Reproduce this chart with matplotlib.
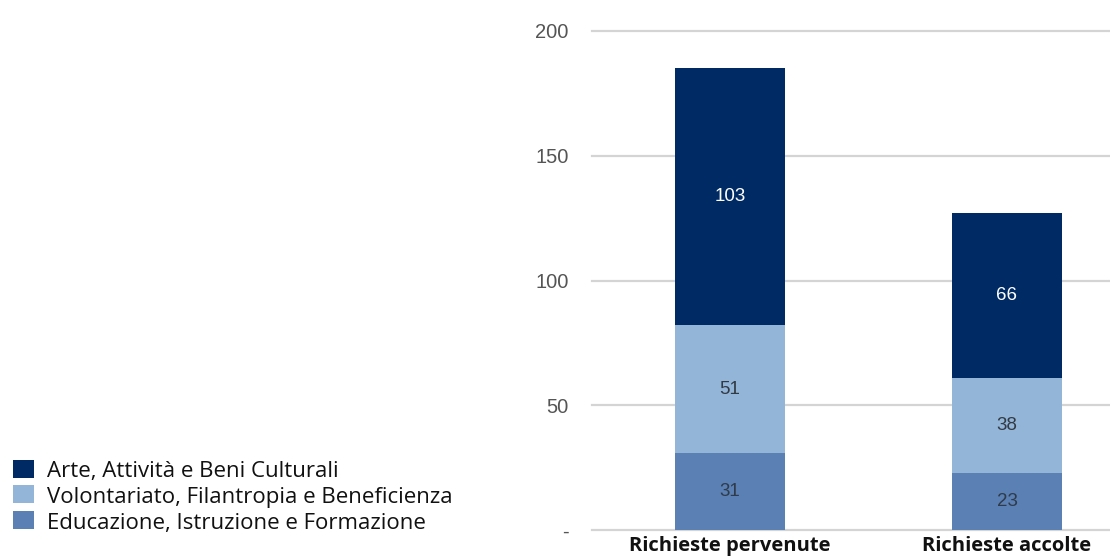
import matplotlib
matplotlib.use("Agg")
import matplotlib.pyplot as plt
from matplotlib.patches import Rectangle

categories = ["Richieste pervenute", "Richieste accolte"]
series_names = [
    "Educazione, Istruzione e Formazione",
    "Volontariato, Filantropia e Beneficienza",
    "Arte, Attività e Beni Culturali",
]
educazione = [31, 23]
volontariato = [51, 38]
arte = [103, 66]
y_ticks = [0, 50, 100, 150, 200]
y_tick_labels = ["-", "50", "100", "150", "200"]

colors = ["#5b80b4", "#93b6d8", "#002a63"]
label_colors = ["#2f3b4a", "#333a44", "#ffffff"]

fig = plt.figure(figsize=(11.1, 5.56), dpi=100)
ax = fig.add_axes([592 / 1110, 26 / 556, 518 / 1110, 499 / 556])

x = list(range(len(categories)))
bottom = [0] * len(categories)
for vals, col, lcol in zip([educazione, volontariato, arte], colors, label_colors):
    ax.bar(x, vals, width=0.40, bottom=bottom, color=col, zorder=3)
    for xi, b, v in zip(x, bottom, vals):
        ax.text(xi, b + v / 2, str(v), ha="center", va="center",
                fontsize=13.5, color=lcol, family="Liberation Sans", zorder=4)
    bottom = [b + v for b, v in zip(bottom, vals)]

ax.set_xlim(-0.498, 1.372)
ax.set_ylim(0, 200)
ax.set_yticks(y_ticks)
ax.set_yticklabels(y_tick_labels, family="Liberation Sans", fontsize=14.5, color="#555555")
ax.tick_params(axis="y", length=0, pad=17)
ax.set_xticks([])
for s in ax.spines.values():
    s.set_visible(False)
for t in y_ticks:
    ax.axhline(t, color="#d4d4d4", lw=1.6, zorder=1, clip_on=False)

# category names under the bars
for xi, cat in zip(x, categories):
    ax.text(xi, -6.6, cat, ha="center", va="center", fontsize=14.5,
            fontweight="bold", family="Open Sans", color="#111111",
            bbox=dict(facecolor="white", edgecolor="none", pad=2),
            clip_on=False, zorder=5)

# legend on the left, dark series first
legend_rows = list(zip(series_names, colors))[::-1]
row_y = [469, 494, 520]
for (name, col), yc in zip(legend_rows, row_y):
    fy = 1 - yc / 556
    fig.patches.append(Rectangle((13 / 1110, fy - 9 / 556), 21 / 1110, 18 / 556,
                                 transform=fig.transFigure, facecolor=col,
                                 edgecolor="none"))
    fig.text(47 / 1110, fy - 3 / 556, name, ha="left", va="center",
             fontsize=16, family="Open Sans", color="#111111")

fig.savefig("out.png", dpi=100)
